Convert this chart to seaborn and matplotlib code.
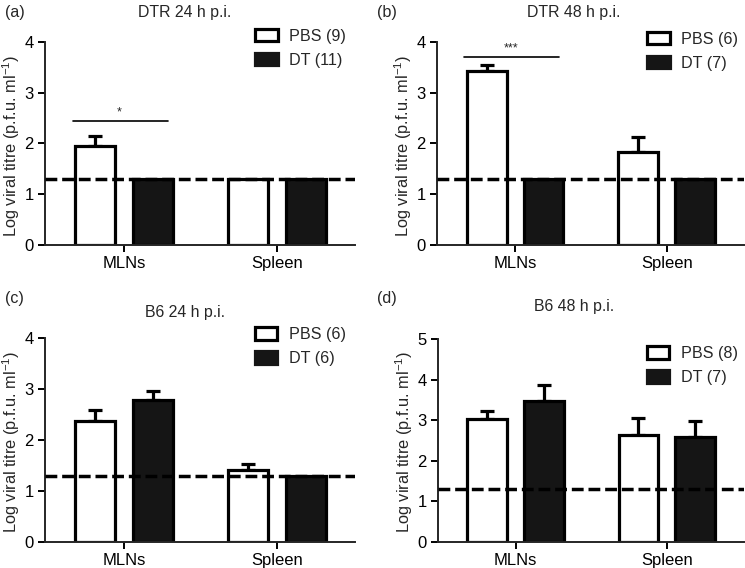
import pandas as pd
import seaborn as sns
import matplotlib.pyplot as plt
from matplotlib.patches import Patch

# Log viral titre means and SEM (upper error only)
tissues = ['MLNs', 'Spleen']
groups = ['PBS', 'DT']

titles = ['DTR 24 h p.i.', 'DTR 48 h p.i.', 'B6 24 h p.i.', 'B6 48 h p.i.']
panel_tags = ['(a)', '(b)', '(c)', '(d)']
legend_n = [(9, 11), (6, 7), (6, 6), (8, 7)]
y_max = [4, 4, 4, 5]

pbs_mean = [[1.95, 1.30], [3.42, 1.83], [2.37, 1.41], [3.03, 2.63]]
pbs_sem = [[0.20, 0.00], [0.13, 0.29], [0.22, 0.11], [0.19, 0.41]]
dt_mean = [[1.30, 1.30], [1.30, 1.30], [2.79, 1.30], [3.46, 2.59]]
dt_sem = [[0.00, 0.00], [0.00, 0.00], [0.18, 0.00], [0.41, 0.39]]

detection_limit = 1.3
# significance bars: panel -> (label, y value)
sig_marks = {0: ('*', 2.44), 1: ('***', 3.71)}

sns.set_style('ticks')
plt.rcParams['font.family'] = ['Liberation Sans', 'DejaVu Sans']
plt.rcParams['mathtext.fontset'] = 'custom'
plt.rcParams['mathtext.rm'] = 'Liberation Sans'
plt.rcParams['mathtext.it'] = 'Liberation Sans:italic'
plt.rcParams['axes.linewidth'] = 1.4

fig = plt.figure(figsize=(7.45, 5.68), dpi=100)
rects = [
    [0.0604, 0.5687, 0.4161, 0.3574],
    [0.5866, 0.5687, 0.4120, 0.3574],
    [0.0604, 0.0463, 0.4161, 0.3581],
    [0.5875, 0.0463, 0.4110, 0.3569],
]
title_xy = [(185, 13), (574, 13), (185, 312), (574, 307)]
tag_xy = [(5, 13), (377, 13), (5, 299), (377, 299)]
legend_anchor = [(0.97, 1.065), (0.98, 1.05), (0.97, 1.055), (0.98, 0.965)]
palette = {'PBS': 'white', 'DT': '#151515'}

for i in range(4):
    df = pd.DataFrame({
        'tissue': tissues * 2,
        'group': ['PBS'] * 2 + ['DT'] * 2,
        'value': pbs_mean[i] + dt_mean[i],
    })
    ax = fig.add_axes(rects[i])
    sns.barplot(data=df, x='tissue', y='value', hue='group', hue_order=groups,
                order=tissues, palette=palette, edgecolor='black', linewidth=2.3,
                width=0.75, gap=0.3, errorbar=None, legend=False, ax=ax, zorder=2)

    sems = [pbs_sem[i], dt_sem[i]]
    for container, err in zip(ax.containers, sems):
        for bar, e in zip(container, err):
            if e <= 0:
                continue
            xc = bar.get_x() + bar.get_width() / 2
            ax.errorbar(xc, bar.get_height(), yerr=[[0], [e]], fmt='none',
                        ecolor='black', elinewidth=2.3, capsize=4.8,
                        capthick=2.3, zorder=1)

    ax.axhline(detection_limit, color='black', lw=2.5,
               linestyle=(0, (3.4, 1.4)), zorder=3)

    if i in sig_marks:
        label, ys = sig_marks[i]
        ax.plot([-0.335, 0.29], [ys, ys], color='black', lw=1.2, zorder=3)
        ax.text(-0.03, ys + 0.05, label, ha='center', va='bottom', fontsize=9)

    ax.set_xlim(-0.516, 1.51)
    ax.set_ylim(0, y_max[i])
    ax.set_yticks(range(y_max[i] + 1))
    ax.set_xlabel('')
    ax.set_ylabel(r'Log viral titre (p.f.u. ml$^{-1}$)', fontsize=11.8)
    width_px = rects[i][2] * 745
    ax.yaxis.set_label_coords(-23 / width_px, 0.49)
    ax.tick_params(axis='both', labelsize=12, width=1.4, length=5, color='black',
                   labelcolor='black', pad=3)
    sns.despine(ax=ax)

    n_pbs, n_dt = legend_n[i]
    handles = [Patch(facecolor='white', edgecolor='black', linewidth=2.3),
               Patch(facecolor='#151515', edgecolor='#151515', linewidth=2.3)]
    ax.legend(handles, [f'PBS ({n_pbs})', f'DT ({n_dt})'], loc='upper right',
              bbox_to_anchor=legend_anchor[i], frameon=False, fontsize=11.6,
              handlelength=1.4, handleheight=0.8, handletextpad=0.7,
              labelspacing=0.55, borderpad=0, borderaxespad=0)

    fig.text(title_xy[i][0] / 745, 1 - title_xy[i][1] / 568, titles[i],
             ha='center', va='center', fontsize=11.4)
    fig.text(tag_xy[i][0] / 745, 1 - tag_xy[i][1] / 568, panel_tags[i],
             ha='left', va='center', fontsize=11.6)

fig.savefig('out.png', dpi=100)
plt.close(fig)
